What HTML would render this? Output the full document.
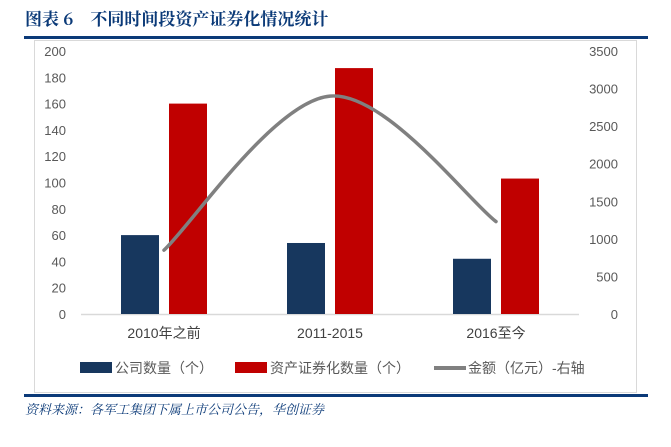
<!DOCTYPE html>
<html><head><meta charset="utf-8"><style>
body{margin:0;width:671px;height:442px;background:#fff;overflow:hidden;font-family:"Liberation Sans","Noto Sans CJK SC",sans-serif}
</style></head><body>
<svg width="671" height="442" xmlns="http://www.w3.org/2000/svg" font-family="Liberation Sans, Noto Sans CJK SC, sans-serif">
<text x="25" y="25" font-size="17" font-weight="bold" fill="#0b3a78" font-family="Noto Serif CJK SC, serif">图表 6　不同时间段资产证券化情况统计</text>
<rect x="24" y="36" width="624" height="3" fill="#0b3a78"/>
<rect x="34.5" y="40.5" width="602" height="352" fill="none" stroke="#d9d9d9"/>
<rect x="24" y="394" width="624" height="3" fill="#0b3a78"/>
<text x="25" y="414" font-size="13" font-style="italic" fill="#0b3a78" font-family="Noto Serif CJK SC, serif">资料来源：各军工集团下属上市公司公告，华创证券</text>
<g id="axes"></g><g id="plot"></g>
<g font-size="14" fill="#595959">
<rect x="80" y="362" width="32" height="11" fill="#17375e"/>
<text x="115" y="373">公司数量（个）</text>
<rect x="235" y="362" width="32" height="11" fill="#c00000"/>
<text x="270" y="373">资产证券化数量（个）</text>
<line x1="434" y1="368" x2="466" y2="368" stroke="#808080" stroke-width="4"/>
<text x="468" y="373">金额（亿元）-右轴</text>
</g>
</svg>
<script>
const categories=["2010年之前","2011-2015","2016至今"];
const companies=[60,54,42];
const absCount=[160,187,103];
const amount=[850,2900,1230];
const leftTicks=[0,20,40,60,80,100,120,140,160,180,200];
const rightTicks=[0,500,1000,1500,2000,2500,3000,3500];
const NS="http://www.w3.org/2000/svg";
const X0=81,X1=579,Y0=314,Y1=51;
const yL=v=>Y0-(v/200)*(Y0-Y1);
const yR=v=>Y0-(v/3500)*(Y0-Y1);
const band=(X1-X0)/categories.length;
const xc=i=>X0+band*(i+0.5);
function mk(tag,attrs,parent){const e=document.createElementNS(NS,tag);for(const k in attrs)e.setAttribute(k,attrs[k]);parent.appendChild(e);return e;}
const axes=document.getElementById('axes'),plot=document.getElementById('plot');
leftTicks.forEach(v=>{const t=mk('text',{x:66,y:yL(v)+5,'text-anchor':'end','font-size':13,fill:'#595959'},axes);t.textContent=v;

});
rightTicks.forEach(v=>{const t=mk('text',{x:618,y:yR(v)+5,'text-anchor':'end','font-size':13,fill:'#595959'},axes);t.textContent=v;

});
const ax=mk('line',{x1:X0,y1:Y0+0.5,x2:X1,y2:Y0+0.5,stroke:'#d9d9d9','stroke-width':1.5},axes);


categories.forEach((c,i)=>{const t=mk('text',{x:xc(i),y:338,'text-anchor':'middle','font-size':14,fill:'#404040'},axes);t.textContent=c;


const bw=38;
const b1=mk('rect',{x:xc(i)-bw-5,y:yL(companies[i]),width:bw,height:Y0-yL(companies[i]),fill:'#17375e'},plot);


const b2=mk('rect',{x:xc(i)+5,y:yL(absCount[i]),width:bw,height:Y0-yL(absCount[i]),fill:'#c00000'},plot);

});
const pts=amount.map((v,i)=>[xc(i),yR(v)]);
let d=`M${pts[0][0]},${pts[0][1]}`;
for(let i=0;i<pts.length-1;i++){const p0=pts[i-1]||pts[i],p1=pts[i],p2=pts[i+1],p3=pts[i+2]||p2;const k=1/6;
d+=` C${p1[0]+(p2[0]-p0[0])*k},${p1[1]+(p2[1]-p0[1])*k} ${p2[0]-(p3[0]-p1[0])*k},${p2[1]-(p3[1]-p1[1])*k} ${p2[0]},${p2[1]}`;}
const ln=mk('path',{d:d,fill:'none',stroke:'#808080','stroke-width':3.5,'stroke-linecap':'round'},plot);


</script>
</body></html>
